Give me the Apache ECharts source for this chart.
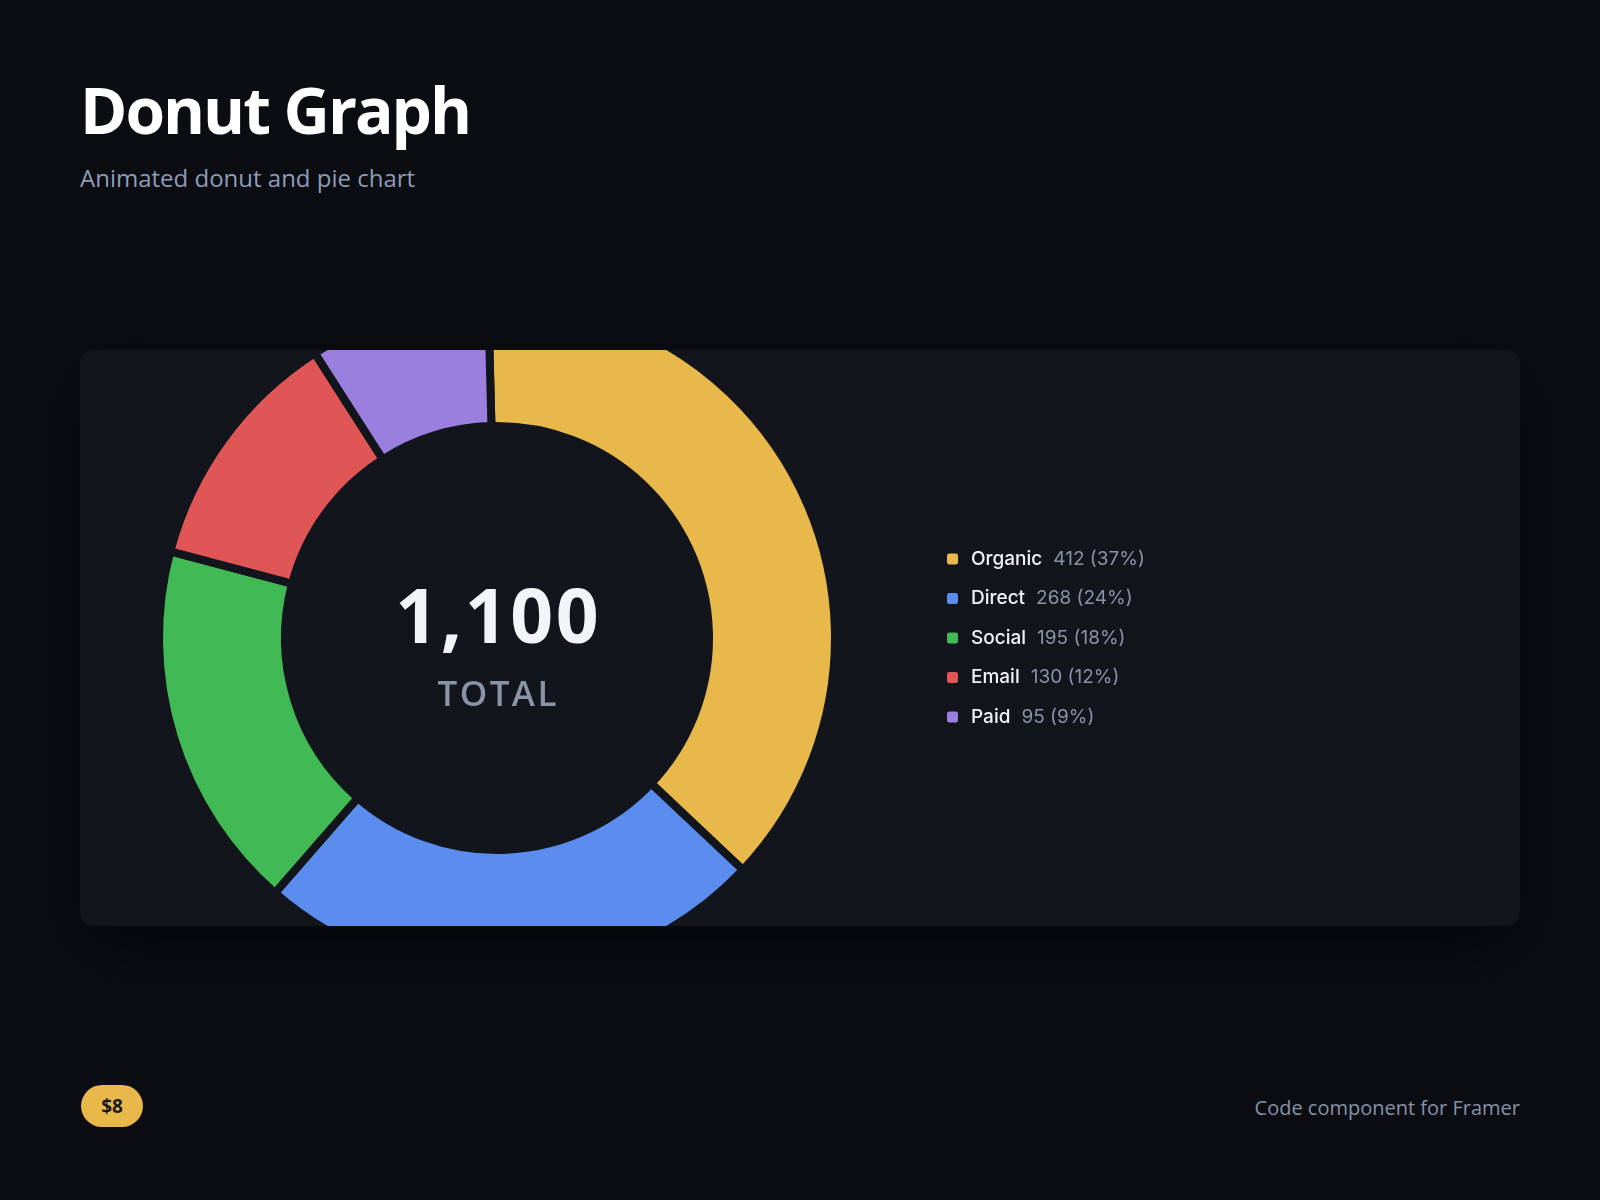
<!DOCTYPE html>
<html>
<head>
<meta charset="utf-8">
<title>Donut Graph</title>
<script src="https://cdn.jsdelivr.net/npm/echarts@6/dist/echarts.min.js"></script>
<style>
  html, body {
    margin: 0;
    padding: 0;
    background: #0b0d12;
  }
  .page {
    position: relative;
    width: 1600px;
    height: 1200px;
    overflow: hidden;
    background: #0b0d12;
    font-family: "Open Sans", "Noto Sans", sans-serif;
  }
  .title {
    position: absolute;
    left: 80px;
    top: 78px;
    margin: 0;
    font-size: 64px;
    line-height: 1;
    font-weight: 700;
    letter-spacing: -2px;
    color: #ffffff;
  }
  .subtitle {
    position: absolute;
    left: 80px;
    top: 166px;
    font-size: 24px;
    line-height: 1;
    color: #8e9cb8;
  }
  .card {
    position: absolute;
    left: 80px;
    top: 350px;
    width: 1440px;
    height: 576px;
    border-radius: 14px;
    overflow: hidden;
    background: #12151c;
    box-shadow: 0 24px 70px rgba(0, 0, 0, 0.5);
  }
  .price {
    position: absolute;
    left: 81px;
    top: 1085px;
    width: 62px;
    height: 42px;
    border-radius: 21px;
    background: #e8b84b;
    color: #17181c;
    font-size: 19px;
    font-weight: 700;
    line-height: 42px;
    text-align: center;
  }
  .footer {
    position: absolute;
    right: 80px;
    top: 1098px;
    font-size: 20px;
    line-height: 1;
    color: #8792a8;
  }
</style>
</head>
<body>
<div class="page">
  <h1 class="title">Donut Graph</h1>
  <div class="subtitle">Animated donut and pie chart</div>
  <div class="card" id="donut-echarts"></div>
  <div class="price">$8</div>
  <div class="footer">Code component for Framer</div>
</div>
<script>
// traffic sources
const categories = ['Organic', 'Direct', 'Social', 'Email', 'Paid'];
const values = [412, 268, 195, 130, 95];
const colors = ['#e8b84b', '#5b8def', '#41b954', '#e05656', '#9b7fde'];
const totalLabel = 'TOTAL';

const CARD_BG = '#12151c';

const total = values.reduce((a, b) => a + b, 0);

// pie data built from the arrays
const pieData = categories.map((name, i) => ({
  name: name,
  value: values[i],
  itemStyle: { color: colors[i] }
}));

// spread text out a little, one rich token per character
const spread = (str, key) => str.split('').map(c => '{' + key + '|' + c + '}').join('');

const donutDom = document.getElementById('donut-echarts');
const donutChart = echarts.init(donutDom);

const donutOptions = {
  animation: false,
  backgroundColor: 'transparent',
  legend: {
    orient: 'vertical',
    left: 860,
    top: 'middle',
    icon: 'roundRect',
    itemWidth: 13,
    itemHeight: 13,
    itemGap: 20.5,
    selectedMode: false,
    data: categories,
    formatter: (name) => {
      const i = categories.indexOf(name);
      const pct = Math.round(values[i] / total * 100);
      return '{n|' + name + '}{v|' + values[i] + ' (' + pct + '%)}';
    },
    textStyle: {
      rich: {
        n: {
          fontFamily: 'Inter',
          fontSize: 19,
          fontWeight: 500,
          lineHeight: 22,
          color: '#f1f3f7',
          padding: [0, 0, 0, 7]
        },
        v: {
          fontFamily: 'Inter',
          fontSize: 19,
          fontWeight: 400,
          lineHeight: 22,
          color: '#8b93a7',
          padding: [0, 0, 0, 11]
        }
      }
    }
  },
  graphic: [
    {
      type: 'text',
      x: 417,
      y: 272,
      z: 100,
      silent: true,
      style: {
        text: spread(total.toLocaleString('en-US'), 'b'),
        align: 'center',
        verticalAlign: 'middle',
        rich: {
          b: {
            fontFamily: 'Open Sans',
            fontSize: 75,
            fontWeight: 700,
            fill: '#f3f4f8',
            padding: [0, 1.3, 0, 1.3]
          }
        }
      }
    },
    {
      type: 'text',
      x: 417,
      y: 346,
      z: 100,
      silent: true,
      style: {
        text: spread(totalLabel, 's'),
        align: 'center',
        verticalAlign: 'middle',
        rich: {
          s: {
            fontFamily: 'Open Sans',
            fontSize: 35,
            fontWeight: 600,
            fill: '#8b93a7',
            padding: [0, 1.2, 0, 1.2]
          }
        }
      }
    }
  ],
  series: [
    {
      name: 'Traffic',
      type: 'pie',
      center: [417, 288],
      radius: [212, 338],
      startAngle: 91.5,
      clockwise: true,
      avoidLabelOverlap: false,
      silent: true,
      label: { show: false },
      labelLine: { show: false },
      emphasis: { disabled: true },
      itemStyle: {
        borderColor: CARD_BG,
        borderWidth: 8
      },
      data: pieData
    }
  ]
};

donutChart.setOption(donutOptions);
</script>
</body>
</html>
